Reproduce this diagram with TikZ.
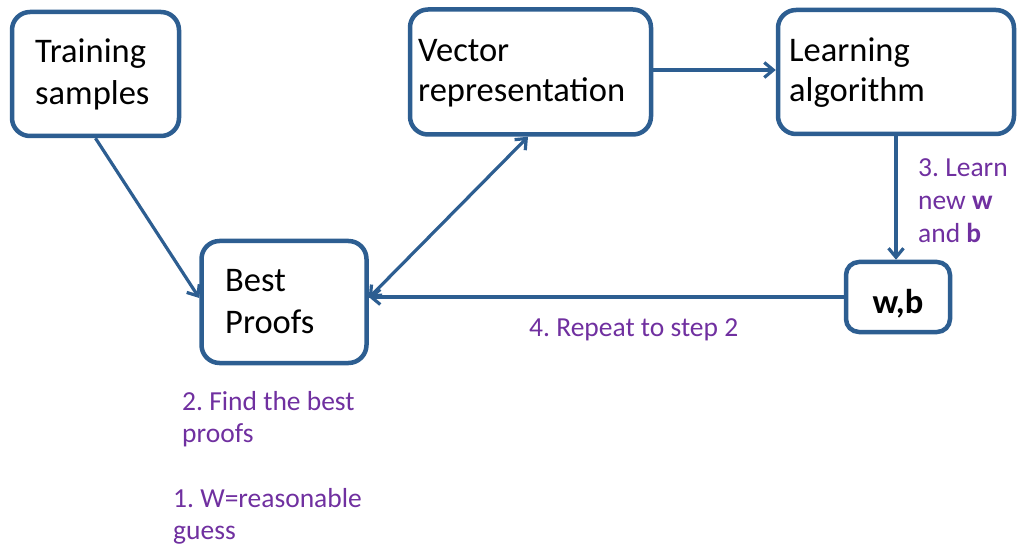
\documentclass[tikz,border=0pt]{standalone}
\usepackage{fontspec}
\setmainfont{Carlito}
\usetikzlibrary{arrows.meta}
\definecolor{boxblue}{RGB}{45,94,145}
\definecolor{steppurple}{RGB}{112,48,160}
\frenchspacing
\tikzset{
  stepbox/.style={draw=boxblue, line width=4.5pt, rounded corners=18pt,
    rectangle, inner sep=0pt, fill=white},
  boxtext/.style={anchor=base west, inner sep=0pt,
    font=\fontsize{34.5}{42}\selectfont},
  steptext/.style={anchor=base west, inner sep=0pt, text=steppurple,
    font=\fontsize{27.5}{32}\selectfont},
  flow/.style={draw=boxblue, line width=3.2pt,
    -{Straight Barb[length=9pt,width=15pt,line width=3.2pt]}},
  twoway/.style={draw=boxblue, line width=3.2pt,
    {Straight Barb[length=9pt,width=15pt,line width=3.2pt]}-{Straight Barb[length=9pt,width=15pt,line width=3.2pt]}}
}
\begin{document}
\begin{tikzpicture}[x=1pt, y=-1pt]
\useasboundingbox (0,0) rectangle (1018,548);

% boxes
\node[stepbox, minimum width=167pt, minimum height=124pt] (tr)  at (95.5,74) {};
\node[stepbox, minimum width=165pt, minimum height=122pt] (best) at (284,302) {};
\node[stepbox, minimum width=241pt, minimum height=125pt] (vec) at (530.5,72) {};
\node[stepbox, minimum width=236pt, minimum height=124pt] (lr)  at (896,72) {};
\node[stepbox, rounded corners=13pt, minimum width=104pt, minimum height=70pt] (wb) at (898,297) {};

% box labels
\node[boxtext] (trA) at (35,63)  {Training};
\node[boxtext] (trB) at (35,105) {samples};
\node[boxtext] (bpA) at (225,292) {Best};
\node[boxtext] (bpB) at (225,333) {Proofs};
\node[boxtext] (vrA) at (418,62)  {Vector};
\node[boxtext] (vrB) at (418,102) {representation};
\node[boxtext] (laA) at (789,62)  {Learning};
\node[boxtext] (laB) at (789,102) {algorithm};
\node[boxtext, anchor=base] (wbt) at (898,313) {\bfseries w,b};

% connectors
\draw[flow] (tr.south) -- ([yshift=4pt]best.west);
\draw[twoway] ([yshift=4pt]best.east) -- ([xshift=-2.5pt]vec.south);
\draw[flow] ([yshift=2pt]vec.east) -- ([yshift=2pt]lr.west);
\draw[flow] (lr.south) -- (lr.south |- wb.north);
\draw[flow] (wb.west) -- (wb.west -| best.east);

% step annotations
\node[steptext] (s3a) at (918,177) {3. Learn};
\node[steptext] (s3b) at (918,210) {new \textbf{w}};
\node[steptext] (s3c) at (918,243) {and \textbf{b}};
\node[steptext] (s4)  at (529,336) {4. Repeat to step 2};
\node[steptext] (s2a) at (182,410) {2. Find the best};
\node[steptext] (s2b) at (182,442) {proofs};
\node[steptext] (s1a) at (173,507) {1. W=reasonable};
\node[steptext] (s1b) at (173,539) {guess};
\end{tikzpicture}
\end{document}
